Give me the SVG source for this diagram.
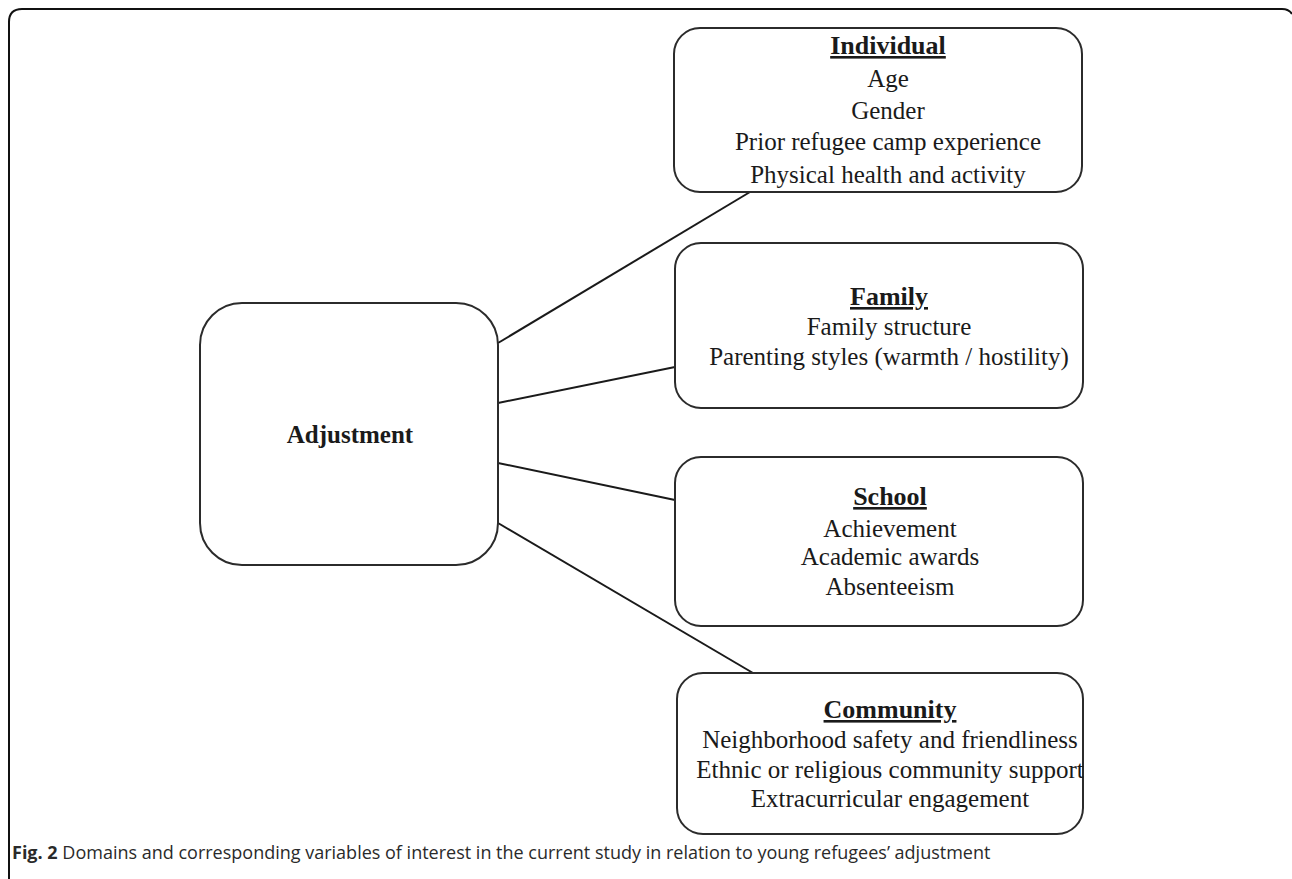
<svg xmlns="http://www.w3.org/2000/svg" width="1292" height="879" viewBox="0 0 1292 879">
<style>
.box{fill:#fff;stroke:#2b2b2b;stroke-width:2}
.t{font-family:"Liberation Serif","Times New Roman",serif;font-size:25px;fill:#1a1a1a;text-anchor:middle}
.h{font-weight:bold;text-decoration:underline;font-size:26px}
.conn line{stroke:#1a1a1a;stroke-width:2}
.cap{font-family:"Open Sans","Noto Sans",sans-serif;font-size:18px;fill:#2a2a2a}
</style>
<rect width="1292" height="879" fill="#fff"/>
<path d="M9 879 V22 Q9 9 22 9 H1282 Q1289 9 1292 14" fill="none" stroke="#111" stroke-width="2"/>
<g id="connectors" class="conn">
<line x1="498" y1="343" x2="750" y2="192"/>
<line x1="498" y1="403" x2="675" y2="367"/>
<line x1="498" y1="463" x2="675" y2="500"/>
<line x1="498" y1="523" x2="753" y2="673"/>
</g>
<g id="adjustment">
<rect class="box" x="200" y="303" width="298" height="262" rx="42"/>
<text class="t" x="350" y="443" font-weight="bold" font-size="26.5">Adjustment</text>
</g>
<g id="individual">
<rect class="box" x="674" y="28" width="408" height="164" rx="26"/>
<text class="t h" x="888" y="54">Individual</text>
<text class="t" x="888" y="87">Age</text>
<text class="t" x="888" y="119">Gender</text>
<text class="t" x="888" y="150">Prior refugee camp experience</text>
<text class="t" x="888" y="183">Physical health and activity</text>
</g>
<g id="family">
<rect class="box" x="675" y="243" width="408" height="165" rx="26"/>
<text class="t h" x="889" y="305">Family</text>
<text class="t" x="889" y="335">Family structure</text>
<text class="t" x="889" y="365">Parenting styles (warmth / hostility)</text>
</g>
<g id="school">
<rect class="box" x="675" y="457" width="408" height="169" rx="26"/>
<text class="t h" x="890" y="505">School</text>
<text class="t" x="890" y="537">Achievement</text>
<text class="t" x="890" y="565">Academic awards</text>
<text class="t" x="890" y="595">Absenteeism</text>
</g>
<g id="community">
<rect class="box" x="677" y="673" width="406" height="161" rx="26"/>
<text class="t h" x="890" y="718">Community</text>
<text class="t" x="890" y="748">Neighborhood safety and friendliness</text>
<text class="t" x="890" y="778">Ethnic or religious community support</text>
<text class="t" x="890" y="807">Extracurricular engagement</text>
</g>
<text class="cap" x="12" y="859"><tspan font-weight="bold">Fig. 2</tspan> Domains and corresponding variables of interest in the current study in relation to young refugees’ adjustment</text>
</svg>
